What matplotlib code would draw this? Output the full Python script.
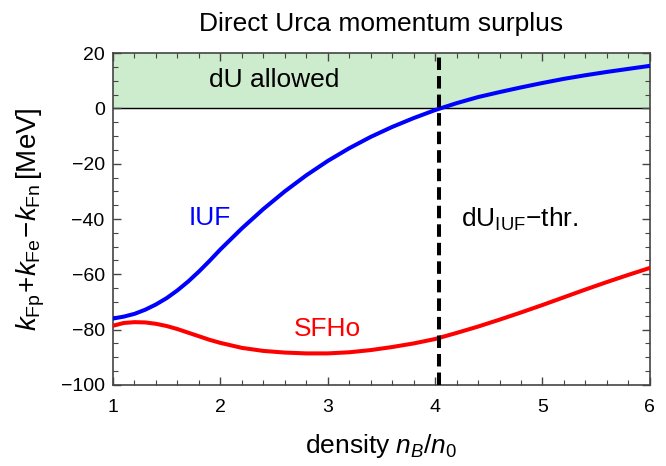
import matplotlib
matplotlib.use("Agg")
import matplotlib.pyplot as plt
from matplotlib.ticker import MultipleLocator

plt.rcParams["font.family"] = ["Liberation Sans", "DejaVu Sans"]
plt.rcParams["mathtext.fontset"] = "custom"
plt.rcParams["mathtext.rm"] = "Liberation Sans"
plt.rcParams["mathtext.it"] = "Liberation Sans:italic"
plt.rcParams["mathtext.bf"] = "Liberation Sans:bold"

# density n_B/n_0 (finer spacing where the curves bend most)
density = [1.0, 1.1, 1.2, 1.3, 1.4, 1.5, 1.6, 1.7, 1.8, 1.9, 2.0, 2.2, 2.4, 2.6, 2.8,
           3.0, 3.2, 3.4, 3.6, 3.8, 4.0, 4.2, 4.4, 4.6, 4.8, 5.0, 5.2, 5.4, 5.6, 5.8, 6.0]

# momentum surplus k_Fp + k_Fe - k_Fn [MeV]
surplusIUF = [-76.0, -75.3, -74.3, -72.8, -70.9, -68.6, -65.8, -62.6, -59.0, -55.1, -51.0,
              -43.4, -36.4, -30.0, -24.2, -19.0, -14.4, -10.3, -6.7, -3.5, -0.6, 1.9, 4.1,
              5.9, 7.6, 9.2, 10.7, 12.0, 13.2, 14.3, 15.4]
surplusSFHo = [-78.6, -77.6, -77.3, -77.4, -77.9, -78.7, -79.8, -81.1, -82.4, -83.7, -84.8,
               -86.6, -87.7, -88.3, -88.6, -88.6, -88.2, -87.4, -86.3, -85.0, -83.4, -81.2,
               -78.9, -76.4, -73.8, -71.1, -68.3, -65.5, -62.8, -60.2, -57.7]

thresholdIUF = 4.04
allowedTop = 20

fig = plt.figure(figsize=(6.66, 4.66), dpi=100)
ax = fig.add_axes([0.1697, 0.174, 0.806, 0.712])

ax.axhspan(0, allowedTop, color="#cdeccd", zorder=0)
ax.axhline(0, color="black", lw=1.0, zorder=1)
ax.plot(density, surplusSFHo, color="#ff0000", lw=2.9, zorder=3, solid_joinstyle="round")
ax.plot(density, surplusIUF, color="#0000ff", lw=2.9, zorder=3, solid_joinstyle="round")
ax.axvline(thresholdIUF, color="black", lw=2.9, ls=(0, (3.1, 1.5)), zorder=4)

big = 19
ax.text(1.90, -39.5, "IUF", color="#0000ff", fontsize=big, ha="center", va="center")
ax.text(3.00, -79.7, "SFHo", color="#ff0000", fontsize=big, ha="center", va="center")
ax.text(2.50, 10.2, "dU allowed", color="black", fontsize=big, ha="center", va="center")
ax.text(4.79, -40.0, r"dU$_{\mathrm{IUF}}$$-$thr.", color="black", fontsize=big,
        ha="center", va="center")

ax.set_xlim(1, 6)
ax.set_ylim(-100, 20)
ax.xaxis.set_major_locator(MultipleLocator(1))
ax.xaxis.set_minor_locator(MultipleLocator(0.2))
ax.yaxis.set_major_locator(MultipleLocator(20))
ax.yaxis.set_minor_locator(MultipleLocator(5))
ax.tick_params(which="both", direction="in", top=True, right=True, color="#444444",
               labelsize=14)
ax.tick_params(axis="x", which="both", pad=10)
ax.tick_params(axis="y", which="both", pad=6)
ax.tick_params(which="major", length=6, width=1)
ax.tick_params(which="minor", length=3.5, width=0.8)
for spine in ax.spines.values():
    spine.set_color("#444444")
    spine.set_linewidth(1.2)

ax.set_title("Direct Urca momentum surplus", fontsize=big, pad=16)
ax.set_xlabel(r"density $n_B/n_0$", fontsize=big, labelpad=12)
ax.set_ylabel(r"$k_{\mathrm{Fp}}\!+\!k_{\mathrm{Fe}}\!-\!k_{\mathrm{Fn}}\,$[MeV]", fontsize=20,
              labelpad=10)

fig.savefig("out.png", dpi=100)
